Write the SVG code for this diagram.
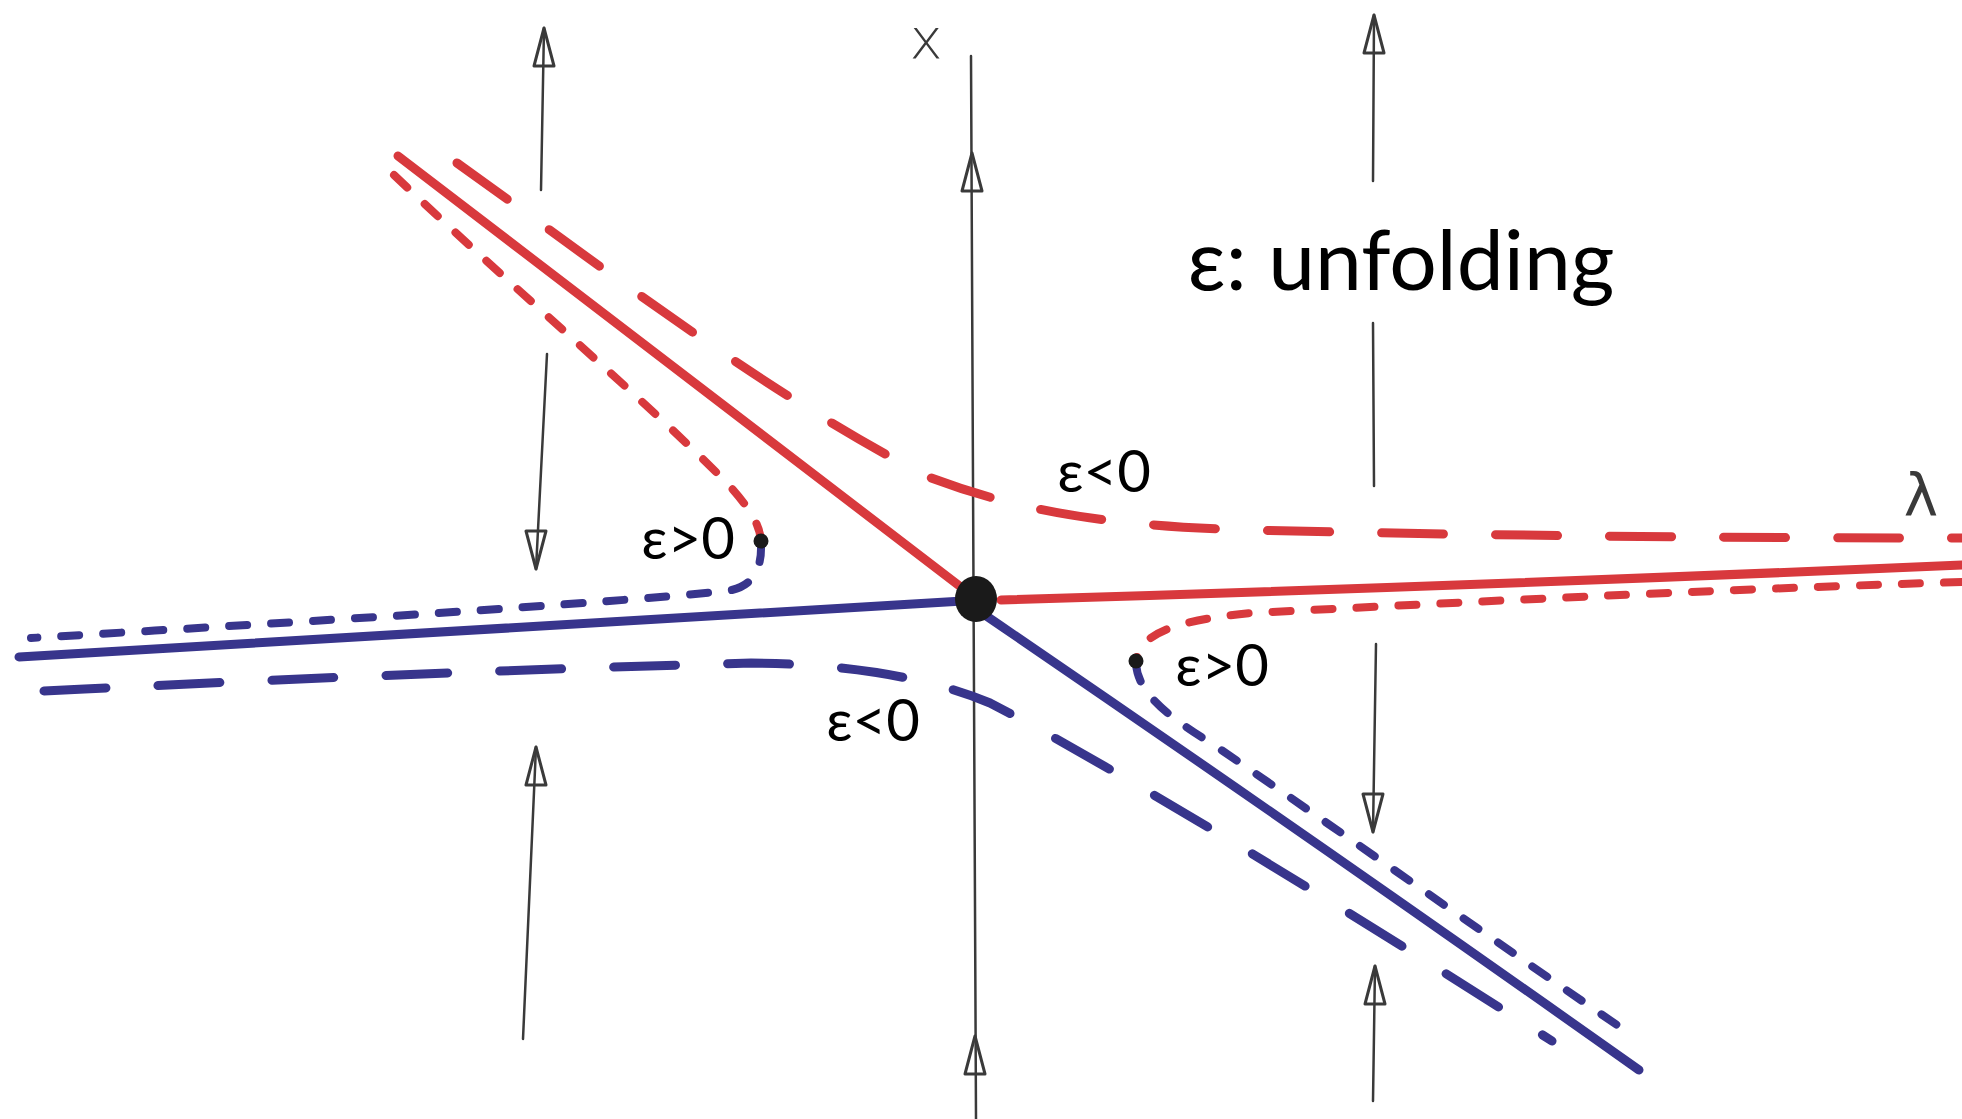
<svg xmlns="http://www.w3.org/2000/svg" xmlns:xlink="http://www.w3.org/1999/xlink" width="1962" height="1119" viewBox="0 0 1962 1119">
<style>
.ax{fill:none;stroke:#3a3a3a;stroke-width:2.5;stroke-linecap:round}
.red{fill:none;stroke:#d8393d;stroke-width:9;stroke-linecap:round;stroke-linejoin:round}
.blue{fill:none;stroke:#38358c;stroke-width:9;stroke-linecap:round;stroke-linejoin:round}
.long{stroke-dasharray:62 52}
.short{stroke-dasharray:18 24;stroke-width:8}
.lbl{font-family:Lato,'Noto Sans','DejaVu Sans',sans-serif;fill:#000;text-anchor:middle}
.hand{font-family:'DejaVu Sans',sans-serif;fill:#3a3a3a;text-anchor:middle}
</style>
<defs>
<path id="ah" d="M0,0 L-10,38 L10,38 Z" fill="none" stroke="#3a3a3a" stroke-width="3" stroke-linejoin="round"/>
</defs>
<rect width="1962" height="1119" fill="#fff"/>

<g id="flow-lines">
<!-- x axis -->
<path class="ax" d="M971,56 L976,1119"/>
<use xlink:href="#ah" transform="translate(972,153)"/>
<use xlink:href="#ah" transform="translate(975,1036)"/>
<!-- left flow line -->
<path class="ax" d="M544,28 L541,190"/>
<use xlink:href="#ah" transform="translate(544,28)"/>
<path class="ax" d="M547,354 L536,569"/>
<use xlink:href="#ah" transform="translate(536,569) rotate(180)"/>
<path class="ax" d="M536,747 L523,1039"/>
<use xlink:href="#ah" transform="translate(536,747)"/>
<!-- right flow line -->
<path class="ax" d="M1374,15 L1373,181"/>
<use xlink:href="#ah" transform="translate(1374,15)"/>
<path class="ax" d="M1373,323 L1374,486"/>
<path class="ax" d="M1376,644 L1373,832"/>
<use xlink:href="#ah" transform="translate(1373,832) rotate(180)"/>
<path class="ax" d="M1375,966 L1373,1101"/>
<use xlink:href="#ah" transform="translate(1375,966)"/>
</g>

<g id="branches">
<!-- red solid -->
<path class="red" d="M398,156 Q690,380 970,594"/>
<path class="red" d="M1001,600 Q1500,585 1962,565"/>
<!-- blue solid -->
<path class="blue" d="M963,601 Q500,630 19,657"/>
<path class="blue" d="M982,613 Q1300,830 1639,1070"/>
<!-- red long dashed (eps<0) -->
<path class="red long" d="M457,163 C600,265 760,390 926,476 C1020,512 1110,526 1250,530 C1500,536 1750,538 1962,538"/>
<!-- blue long dashed (eps<0) -->
<path class="blue long" d="M44,691 C300,678 560,668 751,663 C850,664 930,678 990,703 C1100,760 1300,880 1552,1041"/>
<!-- red short dashed left (eps>0) -->
<path class="red short" d="M394,175 C520,295 640,395 726,482 C750,508 760,525 761,541"/>
<!-- blue short dashed left -->
<path class="blue short" d="M761,544 C762,570 752,588 726,591 C600,604 300,622 31,638"/>
<!-- red short dashed right (eps>0) -->
<path class="red short" d="M1962,582 C1700,590 1450,603 1251,613 C1180,620 1140,632 1136,661"/>
<!-- blue short dashed right -->
<path class="blue short" d="M1136,664 C1138,690 1160,712 1214,745 C1350,838 1500,945 1633,1036"/>
</g>

<g id="points">
<ellipse cx="976" cy="599" rx="21" ry="23" fill="#1a1a1a"/>
<circle cx="761" cy="541" r="7.5" fill="#1a1a1a"/>
<circle cx="1136" cy="661" r="7.5" fill="#1a1a1a"/>
</g>

<g id="labels">
<text class="hand" x="926" y="58" font-size="56" font-weight="300">x</text>
<text class="hand" x="1921" y="516" font-size="58">λ</text>
<text class="lbl" x="1401" y="290" font-size="84">ε: unfolding</text>
<text class="lbl" x="1104" y="492" font-size="58">ε&lt;0</text>
<text class="lbl" x="688" y="559" font-size="58">ε&gt;0</text>
<text class="lbl" x="1222" y="686" font-size="58">ε&gt;0</text>
<text class="lbl" x="873" y="741" font-size="58">ε&lt;0</text>
</g>
</svg>
